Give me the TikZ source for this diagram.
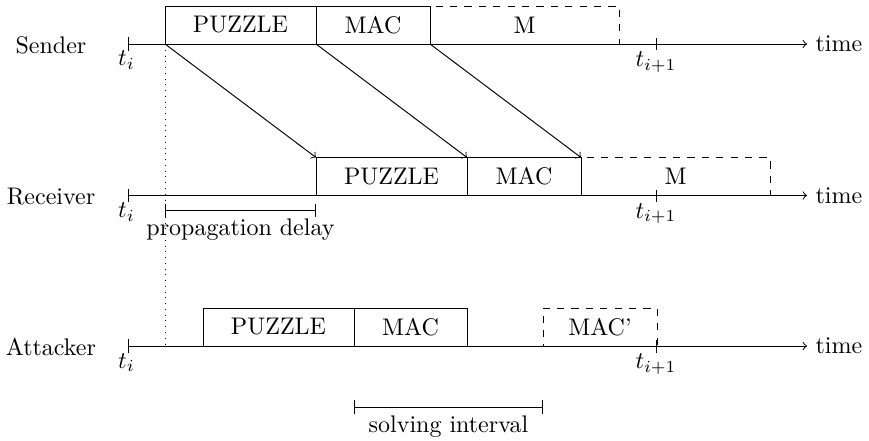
\documentclass[tikz,border=0pt]{standalone}
\begin{document}
\def\u{0.41667pt}
\begin{tikzpicture}[x=0.41667pt,y=-0.41667pt,
  box/.style={draw,inner sep=0pt,outer sep=0pt,minimum height=38*\u,anchor=south west},
  dbox/.style={box,dashed},
  lab/.style={inner sep=3.33pt},
  tlab/.style={anchor=base,inner sep=0pt}]
\useasboundingbox (0,0) rectangle (869,440);
% axis end points
\coordinate (s0) at (128,44);   \coordinate (s1) at (807,44);
\coordinate (r0) at (128,195.5);\coordinate (r1) at (807,195.5);
\coordinate (a0) at (128,346);  \coordinate (a1) at (807,346);
% row labels
\node[lab] (sname) at (51,45.5) {Sender};
\node[lab] (rname) at (51,197) {Receiver};
\node[lab] (aname) at (51,347.5) {Attacker};
% axes
\draw[|->] (s0) -- (s1) node[right] (stime) {time};
\draw[|->] (r0) -- (r1) node[right] (rtime) {time};
\draw[|->] (a0) -- (a1) node[right] (atime) {time};
% t_i labels
\node[tlab] (sti) at (126.5,66) {$t_i$};
\node[tlab] (rti) at (126.5,217.5) {$t_i$};
\node[tlab] (ati) at (126.5,368) {$t_i$};
% t_{i+1} ticks
\coordinate (st) at (656,44); \coordinate (rt) at (656,195.5); \coordinate (at) at (656,346);
\draw ([yshift=6*\u]st) -- ([yshift=-6.5*\u]st);
\draw ([yshift=6*\u]rt) -- ([yshift=-6.5*\u]rt);
\draw ([yshift=6*\u]at) -- ([yshift=-6.5*\u]at);
\node[tlab] (stn) at (656,66.5) {$t_{i+1}$};
\node[tlab] (rtn) at (656,218) {$t_{i+1}$};
\node[tlab] (atn) at (656,368.5) {$t_{i+1}$};
% sender boxes
\node[box,minimum width=151*\u] (sp) at (165,44) {PUZZLE};
\node[box,minimum width=114*\u] (sm) at (316,44) {MAC};
\node[dbox,minimum width=189*\u] (sM) at (430,44) {M};
% receiver boxes
\node[box,minimum width=151*\u] (rp) at (316,195.5) {PUZZLE};
\node[box,minimum width=114*\u] (rm) at (467,195.5) {MAC};
\node[dbox,minimum width=189*\u] (rM) at (581,195.5) {M};
% attacker boxes
\node[box,minimum width=151*\u] (ap) at (203,346) {PUZZLE};
\node[box,minimum width=113*\u] (am) at (354,346) {MAC};
\node[dbox,minimum width=114*\u] (amp) at (543,346) {MAC'};
% propagation arrows
\draw[->] (sp.south west) -- (rp.north west);
\draw[->] (sm.south west) -- (rm.north west);
\draw[->] (sM.south west) -- (rM.north west);
% dotted line
\draw[dotted] (sp.south west) -- (sp.south west |- a0);
% intervals
\coordinate (pd0) at (165,210.5); \coordinate (pd1) at (316,210.5);
\draw[|-|] (pd0) -- (pd1) node[midway,below] (pdl) {propagation delay};
\coordinate (si0) at (354,407); \coordinate (si1) at (543,407);
\draw[|-|] (si0) -- (si1) node[midway,below] (sil) {solving interval};
\end{tikzpicture}
\end{document}
